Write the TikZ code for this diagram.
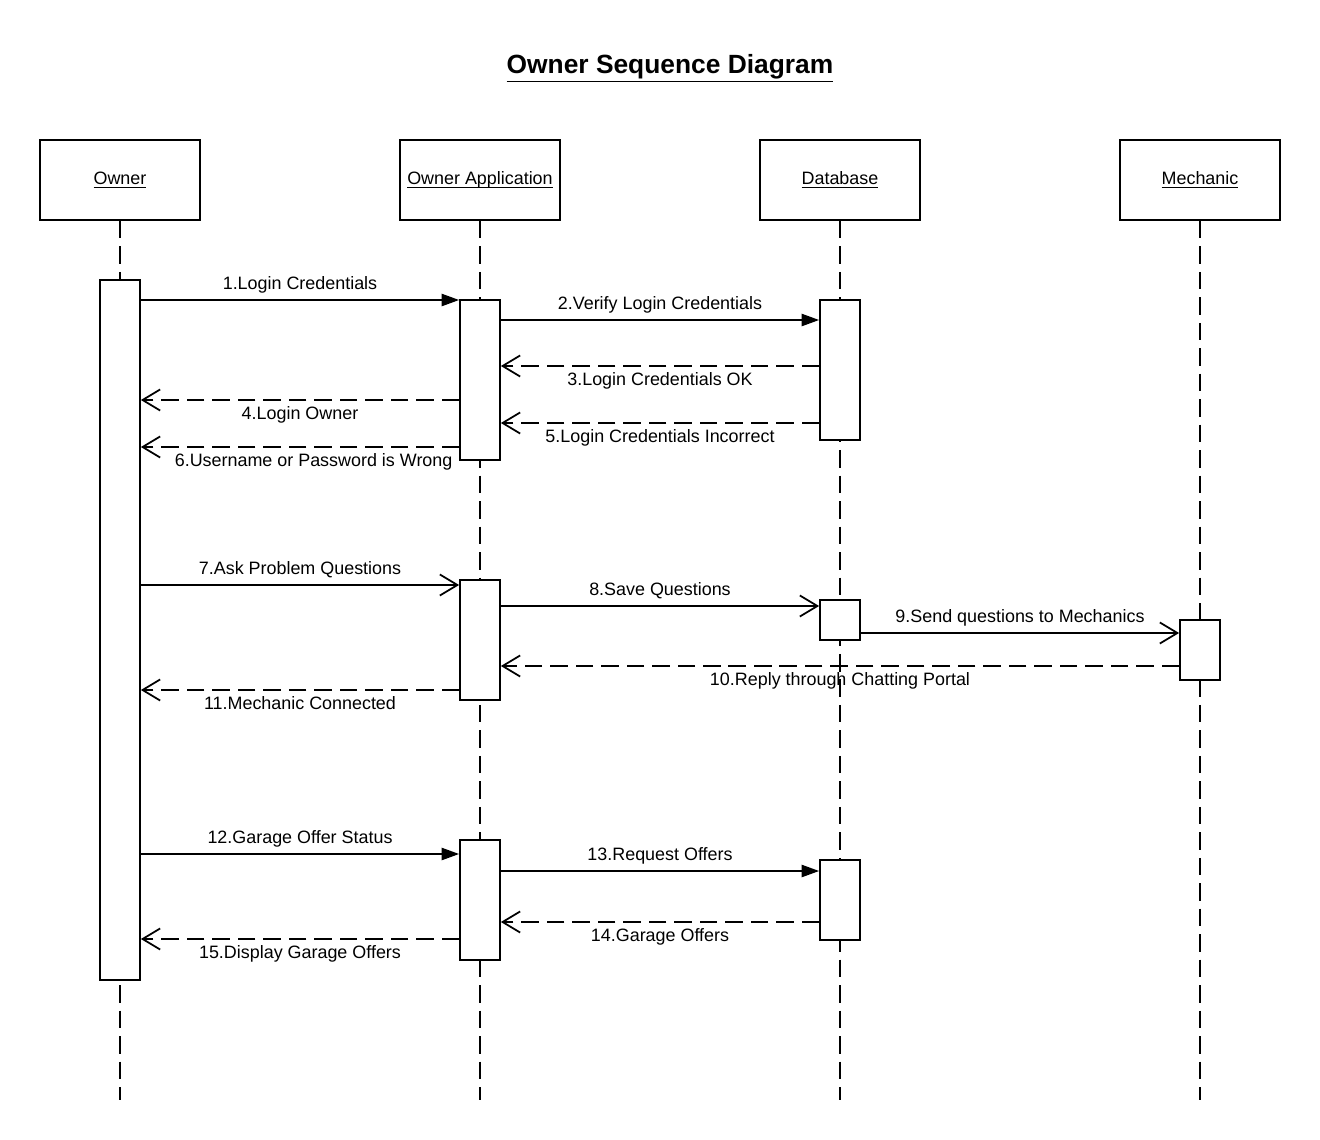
\documentclass[tikz,border=0pt]{standalone}
\usepackage{fontspec}
\setmainfont{Liberation Sans}
\usetikzlibrary{arrows.meta, positioning}

% underline at a fixed depth, whatever the letters
\newcommand{\headtext}[1]{\underline{\raisebox{0pt}[\height][0pt]{#1}}}

\begin{document}
\begin{tikzpicture}[x=0.02cm, y=-0.02cm, line width=1pt,
  font=\fontsize{10.2}{12}\selectfont,
  head/.style={draw, minimum width=3.2cm, minimum height=1.6cm},
  act/.style={draw, fill=white, minimum width=0.8cm, inner sep=0pt},
  life/.style={dash pattern=on 10pt off 4.5pt},
  call/.style={-{Triangle[length=10pt,width=7pt]}},
  send/.style={-{Straight Barb[length=10pt,width=12pt]}},
  reply/.style={dash pattern=on 10pt off 4.5pt, -{Straight Barb[length=10pt,width=12pt]}}]
\useasboundingbox (0,0) rectangle (1320,1140);
% Title
\node[font=\fontsize{15}{18}\selectfont\bfseries] (title) at (670,68) {\underline{Owner Sequence Diagram}};
% Lifeline heads
\node[head] (owner) at (120,180) {\headtext{Owner}};
\node[head] (app) at (480,180) {\headtext{Owner Application}};
\node[head] (db) at (840,180) {\headtext{Database}};
\node[head] (mech) at (1200,180) {\headtext{Mechanic}};
\coordinate (bottom) at (0,1100);
\foreach \h in {owner, app, db, mech}
  \draw[life] (\h.south) -- (\h.south |- bottom);
% Activations
\node[act, minimum height=14cm] (ownAct) at (120,630) {};
\node[act, minimum height=3.2cm] (appAct1) at (480,380) {};
\node[act, minimum height=2.8cm] (dbAct1) at (840,370) {};
\node[act, minimum height=2.4cm] (appAct2) at (480,640) {};
\node[act, minimum height=0.8cm] (dbAct2) at (840,620) {};
\node[act, minimum height=1.2cm] (mechAct) at (1200,650) {};
\node[act, minimum height=2.4cm] (appAct3) at (480,900) {};
\node[act, minimum height=1.6cm] (dbAct3) at (840,900) {};
% Message levels
\foreach \n/\y in {1/300, 2/320, 3/366, 4/400, 5/423, 6/447, 7/585, 8/606,
  9/633, 10/666, 11/690, 12/854, 13/871, 14/922, 15/939}
  \coordinate (m\n) at (0,\y);
% Login
\draw[call] (ownAct.east |- m1) -- node[above] {1.Login Credentials} (appAct1.west |- m1);
\draw[call] (appAct1.east |- m2) -- node[above] {2.Verify Login Credentials} (dbAct1.west |- m2);
\draw[reply] (dbAct1.west |- m3) -- node[below] {3.Login Credentials OK} (appAct1.east |- m3);
\draw[reply] (appAct1.west |- m4) -- node[below] {4.Login Owner} (ownAct.east |- m4);
\draw[reply] (dbAct1.west |- m5) -- node[below] {5.Login Credentials Incorrect} (appAct1.east |- m5);
\draw[reply] (appAct1.west |- m6) -- node[pos=0, below left] {6.Username or Password is Wrong} (ownAct.east |- m6);
% Questions
\draw[send] (ownAct.east |- m7) -- node[above] {7.Ask Problem Questions} (appAct2.west |- m7);
\draw[send] (appAct2.east |- m8) -- node[above] {8.Save Questions} (dbAct2.west |- m8);
\draw[send] (dbAct2.east |- m9) -- node[above] {9.Send questions to Mechanics} (mechAct.west |- m9);
\draw[reply] (mechAct.west |- m10) -- node[below] {10.Reply through Chatting Portal} (appAct2.east |- m10);
\draw[reply] (appAct2.west |- m11) -- node[below] {11.Mechanic Connected} (ownAct.east |- m11);
% Offers
\draw[call] (ownAct.east |- m12) -- node[above] {12.Garage Offer Status} (appAct3.west |- m12);
\draw[call] (appAct3.east |- m13) -- node[above] {13.Request Offers} (dbAct3.west |- m13);
\draw[reply] (dbAct3.west |- m14) -- node[below] {14.Garage Offers} (appAct3.east |- m14);
\draw[reply] (appAct3.west |- m15) -- node[below] {15.Display Garage Offers} (ownAct.east |- m15);
\end{tikzpicture}
\end{document}
